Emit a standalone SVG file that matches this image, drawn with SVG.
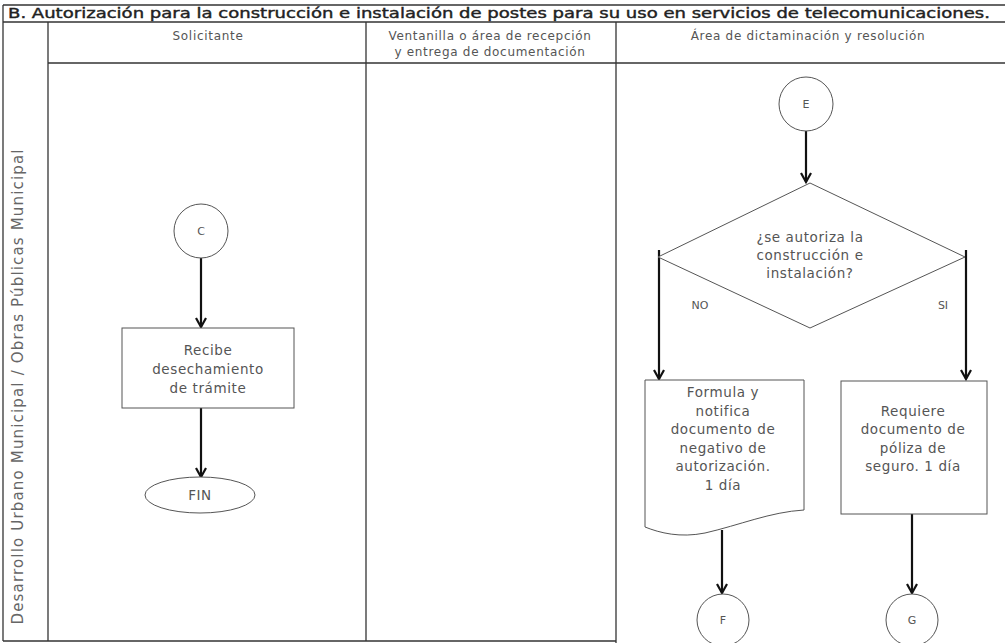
<svg xmlns="http://www.w3.org/2000/svg" width="1005" height="643" viewBox="0 0 1005 643">
<defs>
<marker id="arr" viewBox="0 0 12 12" refX="10" refY="6" markerWidth="12" markerHeight="12" markerUnits="userSpaceOnUse" orient="auto">
<path d="M1,1 L10,6 L1,11" fill="none" stroke="#111" stroke-width="2.2"/>
</marker>
</defs>
<style>
.frame{stroke:#333;stroke-width:1.3;fill:none}
.shape{fill:#fff;stroke:#555;stroke-width:1}
.conn{stroke:#111;stroke-width:2.2;fill:none}
text{font-family:"DejaVu Sans","Liberation Sans",sans-serif;fill:#555}
.hdr{font-size:12px;text-anchor:middle;letter-spacing:0.7px}
.lbl{font-size:13.5px;text-anchor:middle;letter-spacing:0.6px}
.small{font-size:11px;text-anchor:middle}
</style>
<rect width="1005" height="643" fill="#fff"/>
<g id="frame">
<line class="frame" x1="3" y1="5" x2="1005" y2="5"/>
<line class="frame" x1="3" y1="22" x2="1005" y2="22"/>
<line class="frame" x1="48" y1="63" x2="1005" y2="63"/>
<line class="frame" x1="3" y1="5" x2="3" y2="641"/>
<line class="frame" x1="48" y1="22" x2="48" y2="641"/>
<line class="frame" x1="366" y1="22" x2="366" y2="641"/>
<line class="frame" x1="616" y1="22" x2="616" y2="643"/>
<line class="frame" x1="3" y1="641" x2="616" y2="641"/>
<text x="8" y="18" style="font-size:14px;fill:#222;stroke:#222;stroke-width:0.4" textLength="982" lengthAdjust="spacingAndGlyphs">B. Autorización para la construcción e instalación de postes para su uso en servicios de telecomunicaciones.</text>
<text class="hdr" x="208" y="40">Solicitante</text>
<text class="hdr" x="490" y="40">Ventanilla o área de recepción</text>
<text class="hdr" x="490" y="56">y entrega de documentación</text>
<text class="hdr" x="808" y="40">Área de dictaminación y resolución</text>
<text x="0" y="0" style="font-size:15px;text-anchor:middle;fill:#666" textLength="475" transform="translate(23,387) rotate(-90)">Desarrollo Urbano Municipal / Obras Públicas Municipal</text>
</g>
<g id="connectors">
<line class="conn" x1="201" y1="258" x2="201" y2="327" marker-end="url(#arr)"/>
<line class="conn" x1="201" y1="408" x2="201" y2="477" marker-end="url(#arr)"/>
<line class="conn" x1="806" y1="131" x2="806" y2="182" marker-end="url(#arr)"/>
<polyline class="conn" points="659,250 659,379" marker-end="url(#arr)"/>
<polyline class="conn" points="966,250 966,379" marker-end="url(#arr)"/>
<line class="conn" x1="722" y1="530" x2="722" y2="593" marker-end="url(#arr)"/>
<line class="conn" x1="912" y1="513" x2="912" y2="593" marker-end="url(#arr)"/>
<text class="small" x="700" y="309">NO</text>
<text class="small" x="943" y="309">SI</text>
</g>
<g id="node-c">
<circle class="shape" cx="201" cy="231" r="27"/>
<text class="small" x="201" y="235">C</text>
</g>
<g id="node-recibe">
<rect class="shape" x="122" y="328" width="172" height="80"/>
<text class="lbl" x="208" y="355">Recibe</text>
<text class="lbl" x="208" y="374">desechamiento</text>
<text class="lbl" x="208" y="393">de trámite</text>
</g>
<g id="node-fin">
<ellipse class="shape" cx="200" cy="495" rx="55" ry="18"/>
<text class="lbl" x="200" y="500">FIN</text>
</g>
<g id="node-e">
<circle class="shape" cx="806" cy="104" r="27"/>
<text class="small" x="806" y="108">E</text>
</g>
<g id="node-decision">
<polygon class="shape" points="810,183 965,257 810,328 658,257"/>
<text class="lbl" x="810" y="242">¿se autoriza la</text>
<text class="lbl" x="810" y="260">construcción e</text>
<text class="lbl" x="810" y="278">instalación?</text>
</g>
<g id="node-formula">
<path class="shape" d="M645,380 H804 V510 C770,512 740,525 705,533 C680,538 660,533 645,527 Z"/>
<text class="lbl" x="723" y="397">Formula y</text>
<text class="lbl" x="723" y="416">notifica</text>
<text class="lbl" x="723" y="434">documento de</text>
<text class="lbl" x="723" y="453">negativo de</text>
<text class="lbl" x="723" y="471">autorización.</text>
<text class="lbl" x="723" y="490">1 día</text>
</g>
<g id="node-requiere">
<rect class="shape" x="841" y="381" width="146" height="133"/>
<text class="lbl" x="913" y="416">Requiere</text>
<text class="lbl" x="913" y="434">documento de</text>
<text class="lbl" x="913" y="453">póliza de</text>
<text class="lbl" x="913" y="471">seguro. 1 día</text>
</g>
<g id="node-f">
<circle class="shape" cx="723" cy="620" r="26"/>
<text class="small" x="723" y="624">F</text>
</g>
<g id="node-g">
<circle class="shape" cx="912" cy="620" r="26"/>
<text class="small" x="912" y="624">G</text>
</g>
</svg>
